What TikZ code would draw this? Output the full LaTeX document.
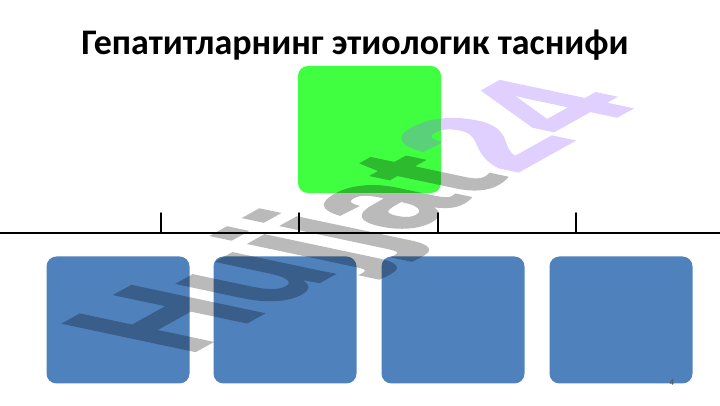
\documentclass[tikz,border=0pt]{standalone}
\usepackage{fontspec}
\setmainfont{Carlito}
\newfontfamily\wmfont[BoldFeatures={FakeBold=1.5}]{Liberation Sans}
\usepackage{tkz-euclide}
\definecolor{cardblue}{RGB}{79,129,189}
\definecolor{cardgreen}{RGB}{64,255,64}
\definecolor{wmlilac}{RGB}{150,100,255}

\begin{document}
\begin{tikzpicture}[x=1pt,y=1pt,
    card/.style={rounded corners=10pt, minimum width=143pt, minimum height=127pt, inner sep=0pt},
    wmtext/.style={transform shape, inner sep=0pt, font=\wmfont\bfseries\fontsize{10}{12}\selectfont}]
    \useasboundingbox (0,0) rectangle (720,406);
    \node[font=\bfseries\fontsize{36}{44}\selectfont, anchor=base] (title) at (355,351) {Гепатитларнинг этиологик таснифи};
    \node[card, fill=cardgreen] (G) at (369.5,276.5) {};
    \node[card, fill=cardblue] (B1) at (118,86) {};
    \node[card, fill=cardblue] (B2) at (285,86) {};
    \node[card, fill=cardblue] (B3) at (453,86) {};
    \node[card, fill=cardblue] (B4) at (621,86) {};
    \tkzDefPoints{0/173/L, 720/173/R, 161/173/A, 161/193/A', 299/173/B, 299/193/B',
        438/173/C, 438/193/C', 576/173/D, 576/193/D'}
    \tkzDrawSegment[line width=1.6pt](L,R)
    \tkzDrawSegments[line width=1.6pt](A,A' B,B' C,C' D,D')
    \node[font=\fontsize{9}{10}\selectfont, text=gray!60!black] (num) at (672,23) {4};
    % watermark
    \begin{scope}[cm={11.6,6.45,-19.1,4.05,(185,49)}]
    \begin{scope}[transparency group, opacity=0.27]
    \node[wmtext, anchor=base west, text=black] (wm) at (0,0) {Hujjat};
    \end{scope}
    \begin{scope}[transparency group, opacity=0.3]
    \node[wmtext, anchor=base west, text=wmlilac] (wm2) at (wm.base east) {24};
    \end{scope}
    \end{scope}
\end{tikzpicture}
\end{document}
